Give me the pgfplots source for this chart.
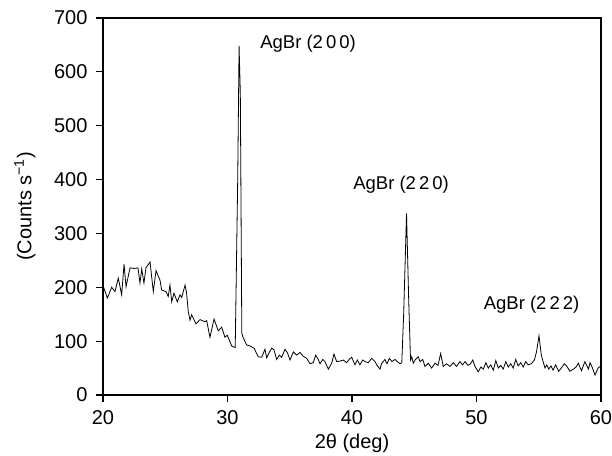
\documentclass[border=0pt]{standalone}
\usepackage{fontspec}
\setmainfont{Liberation Sans}
\usepackage{pgfplots}
\usepackage{pgfplotstable}
\pgfplotsset{compat=1.18}
\pgfplotstableread{
x y
20.02 202
20.35 180
20.70 200
20.96 192
21.23 217
21.50 186
21.69 243
21.85 201
22.17 236
22.49 235
22.81 236
22.97 208
23.11 234
23.29 208
23.45 236
23.78 247
24.04 192
24.26 231
24.58 213
24.71 195
25.06 192
25.24 183
25.38 204
25.52 173
25.70 189
25.97 173
26.18 186
26.32 181
26.59 204
26.71 190
26.85 155
26.99 139
27.12 149
27.47 132
27.79 140
28.19 136
28.33 138
28.59 107
28.92 141
29.26 119
29.53 126
29.80 107
29.98 111
30.34 91
30.62 88
30.82 400
30.93 648
31.03 560
31.15 115
31.25 107
31.54 93
31.81 91
32.13 87
32.47 71
32.75 70
33.01 85
33.15 69
33.33 78
33.55 87
33.73 84
33.95 66
34.16 74
34.35 70
34.62 85
34.82 78
35.02 65
35.29 80
35.56 74
35.82 79
36.09 72
36.36 68
36.63 58
36.89 60
37.08 74
37.29 66
37.43 58
37.65 66
37.83 62
38.10 48
38.37 59
38.55 76
38.77 62
39.04 63
39.30 65
39.57 60
39.84 68
39.98 70
40.24 56
40.43 65
40.64 56
40.86 65
41.04 62
41.31 60
41.58 68
41.85 62
41.98 56
42.25 48
42.39 59
42.65 66
42.81 58
43.00 68
43.21 62
43.45 66
43.65 62
43.86 58
44.00 60
44.15 150
44.38 337
44.55 180
44.70 65
44.80 71
44.92 59
45.10 66
45.32 71
45.46 62
45.68 66
45.86 53
46.13 59
46.40 50
46.67 59
46.91 55
47.12 77
47.33 53
47.59 58
47.87 53
48.14 60
48.39 53
48.67 62
48.88 56
49.08 62
49.32 55
49.52 58
49.70 65
49.88 53
50.14 43
50.35 52
50.55 48
50.75 60
50.95 50
51.15 56
51.35 46
51.55 64
51.75 50
51.95 55
52.15 48
52.35 62
52.55 52
52.75 58
52.95 50
53.15 66
53.35 54
53.55 60
53.75 52
53.95 62
54.15 56
54.40 58
54.65 65
54.82 80
55.02 110
55.20 75
55.35 62
55.50 50
55.64 56
55.80 48
55.98 54
56.15 46
56.36 56
56.60 44
56.84 51
57.05 58
57.24 54
57.50 44
57.78 48
58.00 52
58.18 59
58.43 45
58.71 62
58.99 48
59.12 60
59.25 54
59.52 37
59.76 50
60.00 54
}\xrd
\begin{document}
\begin{tikzpicture}[font=\fontsize{18.5bp}{22bp}\selectfont]
\begin{axis}[
  scale only axis, width=498bp, height=377bp,
  xmin=20, xmax=60, ymin=0, ymax=700,
  xtick={20,30,...,60}, ytick={0,100,...,700},
  tick align=outside, xtick pos=bottom, ytick pos=left,
  major tick length=7bp,
  axis line style={line width=1.4bp},
  major tick style={black, line width=1.2bp},
  /pgf/number format/assume math mode=true,
  ticklabel style={font=\fontsize{20bp}{24bp}\selectfont},
  xticklabel style={yshift=-5bp},
  yticklabel style={xshift=-5bp},
  xlabel={2θ (deg)},
  ylabel={(Counts s\textsuperscript{−1})},
  label style={font=\fontsize{20bp}{24bp}\selectfont},
  xlabel style={at={(axis description cs:0.5,-0.128)}, anchor=center},
  ylabel style={at={(axis description cs:-0.157,0.5)}, anchor=center},
]
\addplot[black, line width=0.8bp] table[x=x, y=y] {\xrd};
\node at (axis cs:36.47,652) {AgBr (2\kern3bp0\kern3bp0)};
\node at (axis cs:43.94,390) {AgBr (2\kern3bp2\kern3bp0)};
\node at (axis cs:54.42,167) {AgBr (2\kern3bp2\kern3bp2)};
\coordinate (bl) at (axis cs:20,0);
\coordinate (tr) at (axis cs:60,700);
\end{axis}
\pgfresetboundingbox
\path ([shift={(-103bp,-61bp)}]bl) rectangle ([shift={(11bp,18bp)}]tr);
\end{tikzpicture}
\end{document}
